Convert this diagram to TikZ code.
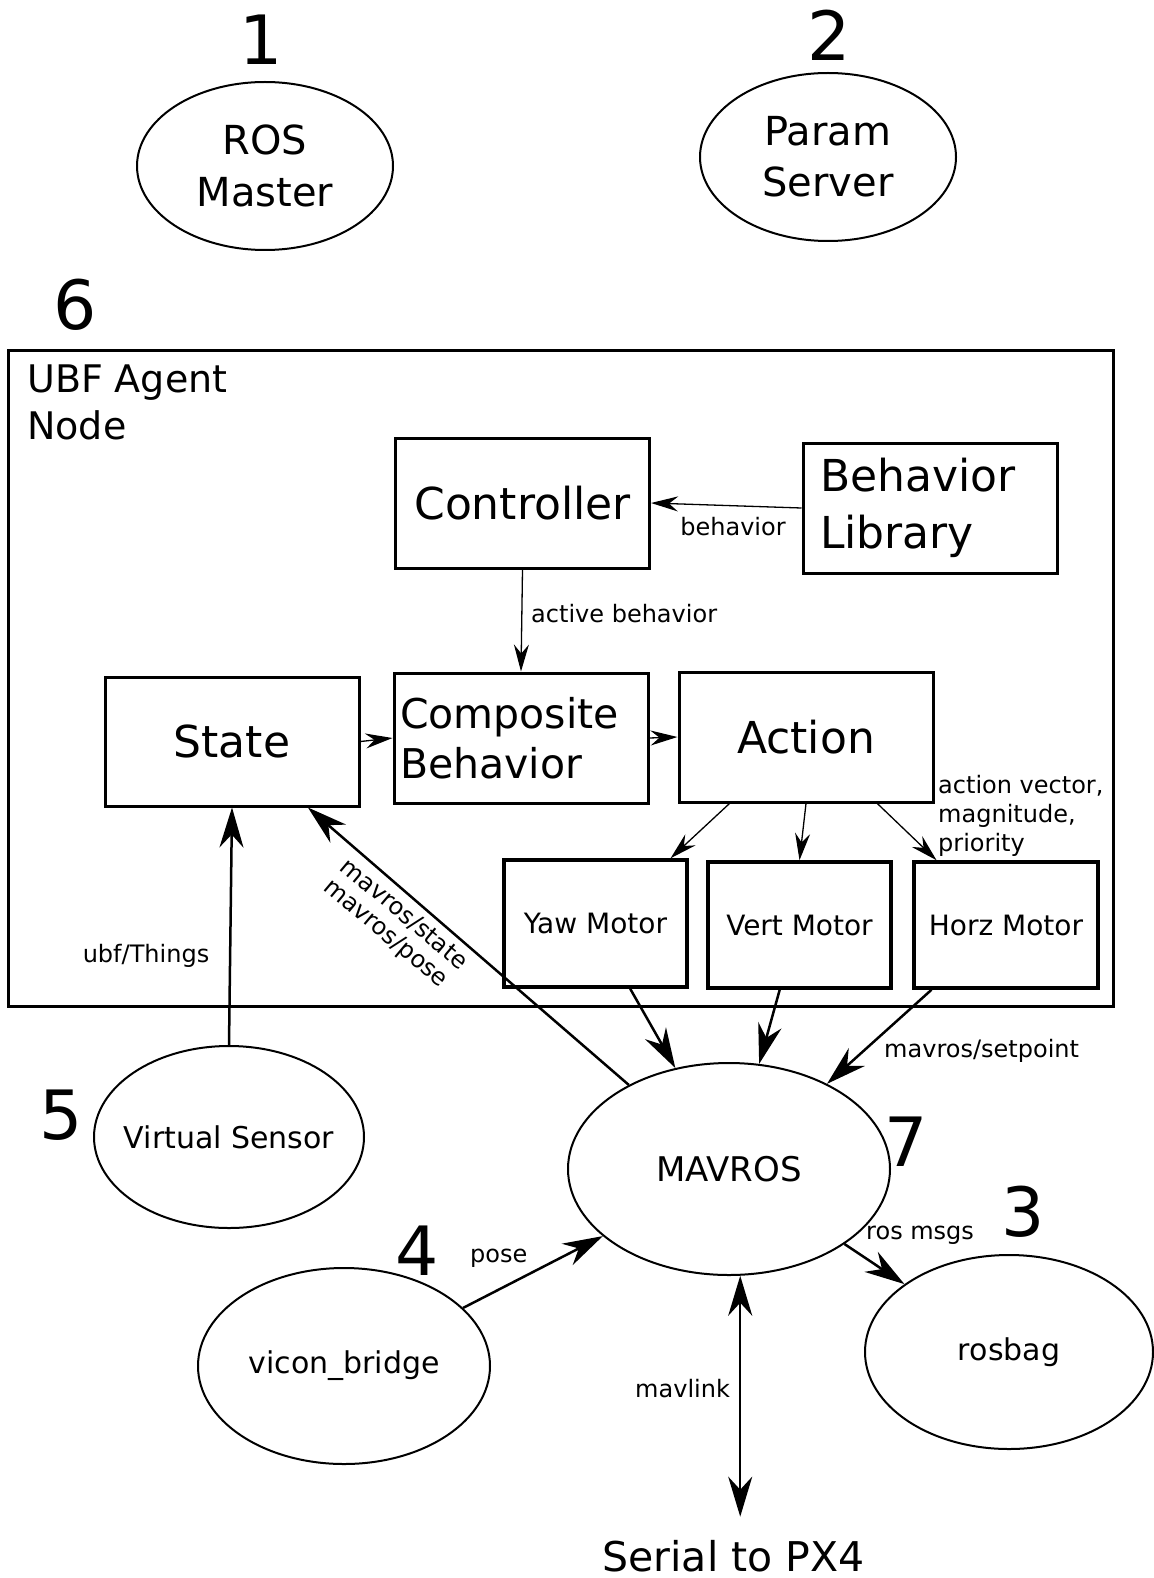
\documentclass[tikz,border=0pt]{standalone}
\usepackage{fontspec}
\setmainfont{DejaVu Sans}
\usetikzlibrary{shapes.geometric, arrows.meta}

\tikzset{
    box/.style={draw, line width=3pt, minimum width=254pt, minimum height=130pt, inner sep=0pt, font=\fontsize{44}{57}\selectfont},
    motorbox/.style={draw, line width=3.5pt, minimum width=183pt, minimum height=126pt, font=\fontsize{28}{34}\selectfont},
    ell/.style={draw, ellipse, line width=2pt, inner sep=-10pt, align=center},
    num/.style={font=\fontsize{68}{80}\selectfont, inner sep=0pt},
    lbl/.style={font=\fontsize{24}{29}\selectfont, inner sep=0pt},
    thinarrow/.style={-{Stealth[length=27pt, width=15pt, inset=9pt]}, line width=1.3pt},
    thickarrow/.style={-{Stealth[length=40pt, width=24pt, inset=13pt]}, line width=2.5pt},
    thickboth/.style={{Stealth[length=40pt, width=24pt, inset=13pt]}-{Stealth[length=40pt, width=24pt, inset=13pt]}, line width=2.5pt}
}

\begin{document}
\begin{tikzpicture}[x=1pt, y=-1pt]
        \useasboundingbox (0,0) rectangle (1153,1578);

        % Numbers
        \node at (261,40) [num] (num1) {1};
        \node at (829,35) [num] (num2) {2};
        \node at (1023,1212) [num] (num3) {3};
        \node at (417,1251) [num] (num4) {4};
        \node at (61,1115) [num] (num5) {5};
        \node at (75,305) [num] (num6) {6};
        \node at (906,1142) [num] (num7) {7};

        % Ellipses
        \node at (265,166) [ell, minimum width=256pt, minimum height=168pt, font=\fontsize{40}{52}\selectfont] (rosmaster) {ROS\\Master};
        \node at (828,157) [ell, minimum width=256pt, minimum height=168pt, font=\fontsize{40}{51}\selectfont] (param) {Param\\Server};
        \node at (229,1137) [ell, minimum width=270pt, minimum height=182pt, font=\fontsize{30}{36}\selectfont] (vsens) {Virtual Sensor};
        \node at (729,1169) [ell, minimum width=322pt, minimum height=212pt, font=\fontsize{34}{40}\selectfont] (mavros) {MAVROS};
        \node at (344,1366) [ell, minimum width=292pt, minimum height=196pt, font=\fontsize{30}{36}\selectfont] (vicon) {vicon\_bridge};
        \node at (1009,1352) [ell, minimum width=288pt, minimum height=194pt, font=\fontsize{30}{36}\selectfont] (rosbag) {rosbag};

        % Agent node
        \node at (560.5,678) [draw, line width=3pt, minimum width=1105pt, minimum height=656pt] (agent) {};
        \node at (27,365) [anchor=north west, inner sep=0pt, align=left, font=\fontsize{38}{47}\selectfont] (agenttitle) {UBF Agent\\Node};

        \node at (522.5,503) [box] (ctrl) {Controller};
        \node at (930,508) [box, text width=220pt, align=left] (lib) {Behavior\\Library};
        \node at (232,741.5) [box, minimum height=129pt] (state) {State};
        \node at (521,738) [box, text width=242pt, align=left, font=\fontsize{41}{50}\selectfont] (comp) {Composite\\Behavior};
        \node at (806,737) [box] (act) {Action};

        \node at (595.5,923.5) [motorbox, minimum height=127pt] (yaw) {Yaw Motor};
        \node at (799.5,925) [motorbox] (vert) {Vert Motor};
        \node at (1006,925) [motorbox, minimum width=184pt] (horz) {Horz Motor};

        \node at (733.5,1571) [anchor=base, inner sep=0pt, font=\fontsize{41}{49}\selectfont] (serial) {Serial to PX4};

        % Arrows
        \draw[thinarrow] (lib.west) -- (ctrl.east);
        \draw[thinarrow] (ctrl.south) -- (comp.north);
        \draw[thinarrow] (state.east) -- (comp.west);
        \draw[thinarrow] (comp.east) -- (act.west);
        \draw[thinarrow] (act.221) -- (yaw.41);
        \draw[thinarrow] (act.south) -- (vert.north);
        \draw[thinarrow] (act.317) -- (horz.137);

        \draw[thickarrow] (yaw.298) -- (mavros.118);
        \draw[thickarrow] (vert.253) -- (mavros.74);
        \draw[thickarrow] (horz.221) -- (mavros.41);
        \draw[thickarrow] (mavros.140) -- (state.319);
        \draw[thickarrow] (vsens.north) -- (state.south);
        \draw[thickarrow] (vicon.26) -- (mavros.208);
        \draw[thickarrow] (mavros.327) -- (rosbag.147);
        \draw[thickboth, shorten >=23pt] (mavros.276) -- (mavros.276 |- serial.north);

        % Labels
        \node at (733,535) [lbl, anchor=base] (lblbehavior) {behavior};
        \node at (531,622) [lbl, anchor=base west] (lblactive) {active behavior};
        \node at (938,775) [lbl, anchor=north west, align=left] (lblvector) {action vector,\\magnitude,\\priority};
        \node at (146,962) [lbl, anchor=base] (lblthings) {ubf/Things};
        \node at (395,925) [lbl, rotate=-40, align=left, font=\fontsize{24}{26}\selectfont] (lblstate) {mavros/state\\mavros/pose};
        \node at (884,1057) [lbl, anchor=base west] (lblsetpoint) {mavros/setpoint};
        \node at (866,1239) [lbl, anchor=base west] (lblmsgs) {ros msgs};
        \node at (470,1262) [lbl, anchor=base west] (lblpose) {pose};
        \node at (635,1397) [lbl, anchor=base west] (lblmavlink) {mavlink};

    \end{tikzpicture}
\end{document}
